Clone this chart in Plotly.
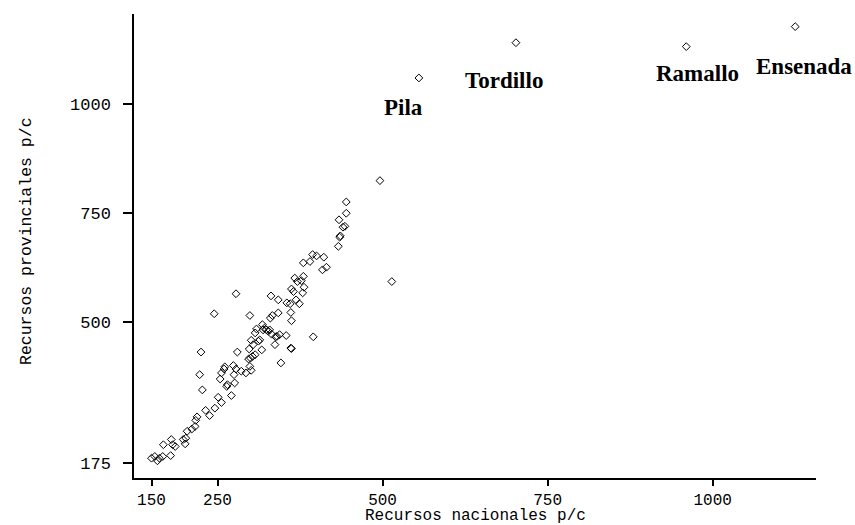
import plotly.graph_objects as go

# Municipal resources per capita: national vs provincial transfers
nacionales = [
    150, 155, 159, 162, 167, 168, 179, 180, 182, 186,
    198, 201, 202, 204, 211, 216, 217, 219, 232, 238,
    246, 251, 256, 271, 223, 227, 225, 245, 264, 265,
    254, 256, 260, 261, 274, 275, 276, 278, 280, 278,
    286, 293, 299, 299, 301, 297, 300, 303, 307, 298,
    301, 304, 307, 309, 312, 314, 317, 318, 319, 321,
    324, 327, 329, 332, 330, 333, 337, 338, 340, 342,
    344, 346, 354, 331, 342, 355, 360, 361, 362, 362,
    365, 369, 374, 361, 362, 367, 371, 377, 380, 381,
    379, 380, 390, 394, 400, 411, 409, 415, 395, 433,
    435, 436, 440, 443, 434, 445, 445, 496, 514,
]
provinciales = [
    186, 190, 180, 186, 190, 217, 192, 229, 217, 213,
    229, 219, 232, 248, 253, 259, 273, 281, 296, 284,
    301, 326, 314, 330, 378, 343, 430, 518, 351, 355,
    368, 382, 391, 396, 399, 378, 359, 391, 430, 564,
    386, 382, 514, 397, 388, 414, 416, 420, 424, 437,
    457, 447, 474, 483, 455, 458, 435, 493, 481, 485,
    481, 478, 481, 471, 508, 514, 447, 465, 466, 520,
    470, 405, 468, 559, 550, 543, 541, 521, 502, 575,
    569, 550, 541, 439, 438, 600, 592, 594, 604, 579,
    566, 635, 638, 654, 651, 648, 619, 625, 465, 673,
    694, 697, 717, 719, 734, 749, 775, 824, 592,
]

# Named outlying municipalities
municipios = ["Pila", "Tordillo", "Ramallo", "Ensenada"]
nac_municipios = [555, 702, 960, 1125]
prov_municipios = [1060, 1141, 1132, 1178]

x_ticks = [150, 250, 500, 750, 1000]
y_ticks = [175, 500, 750, 1000]

MONO = "Liberation Mono"
SERIF = "Liberation Serif"

fig = go.Figure()
fig.add_trace(go.Scatter(
    x=nacionales + nac_municipios,
    y=provinciales + prov_municipios,
    mode="markers",
    marker=dict(symbol="diamond-open", size=6, color="black",
                line=dict(width=1, color="black")),
    hoverinfo="x+y",
    showlegend=False,
))

# label offsets (pixels) relative to each named point
label_shift = {"Pila": (-15, -30), "Tordillo": (-12, -38),
               "Ramallo": (11, -27), "Ensenada": (9, -40)}
for name, xv, yv in zip(municipios, nac_municipios, prov_municipios):
    dx, dy = label_shift[name]
    fig.add_annotation(
        x=xv, y=yv, text="<b>%s</b>" % name, showarrow=False,
        xshift=dx, yshift=dy, xanchor="center", yanchor="middle",
        font=dict(family=SERIF, size=23, color="black"),
    )

# axis titles
fig.add_annotation(
    text="Recursos nacionales p/c", xref="paper", yref="paper",
    x=0.5, y=0, xanchor="center", yanchor="middle", yshift=-38,
    showarrow=False, font=dict(family=MONO, size=16, color="black"),
)
fig.add_annotation(
    text="Recursos provinciales p/c", xref="paper", yref="paper",
    x=0, y=0.5, xanchor="center", yanchor="middle", xshift=-108, yshift=5,
    textangle=-90, showarrow=False,
    font=dict(family=MONO, size=16.5, color="black"),
)

axis_common = dict(
    showgrid=False, zeroline=False, showline=True, linecolor="black",
    linewidth=1.5, tickwidth=1.5, ticks="outside",
    tickcolor="black", mirror=False,
)
fig.update_xaxes(range=[123.5, 1156.5], tickvals=x_ticks,
                 ticktext=[str(v) for v in x_ticks], ticklen=6,
                 tickfont=dict(family=MONO, size=16, color="black"),
                 **axis_common)
fig.update_yaxes(range=[140.5, 1207], tickvals=y_ticks,
                 ticktext=[str(v) for v in y_ticks], ticklen=9,
                 tickfont=dict(family=MONO, size=17, color="black"),
                 ticklabelstandoff=9, **axis_common)

fig.update_layout(
    width=855, height=525,
    margin=dict(l=134, r=39, t=14, b=47, autoexpand=False),
    plot_bgcolor="white", paper_bgcolor="white",
    showlegend=False,
)

fig.write_html("out.html")
